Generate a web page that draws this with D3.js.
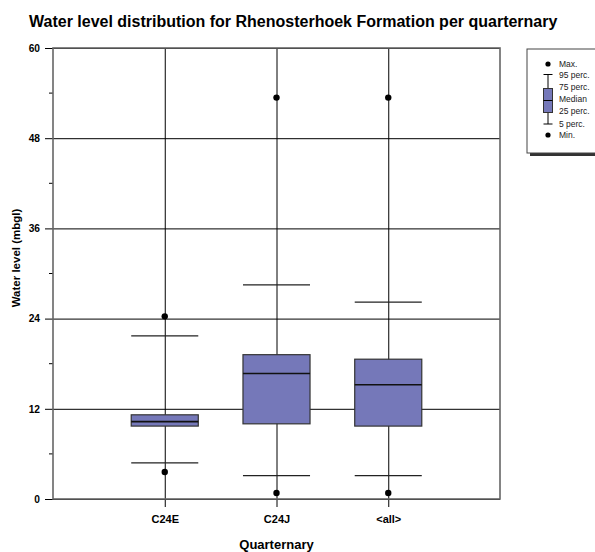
<!DOCTYPE html>
<html>
<head>
<meta charset="utf-8">
<script src="https://cdn.jsdelivr.net/npm/d3@7"></script>
<style>
  html, body { margin: 0; padding: 0; background: #fff; }
  svg { display: block; font-family: "Liberation Sans", Arial, sans-serif; }
</style>
</head>
<body>
<svg id="chart" width="595" height="552"></svg>
<script>
// Water level statistics per quarternary (mbgl)
const categories = ["C24E", "C24J", "<all>"];
const minValues  = [3.6, 0.8, 0.8];
const p5Values   = [4.8, 3.1, 3.1];
const p25Values  = [9.7, 10.0, 9.7];
const medianValues = [10.3, 16.7, 15.2];
const p75Values  = [11.2, 19.2, 18.6];
const p95Values  = [21.7, 28.5, 26.2];
const maxValues  = [24.3, 53.4, 53.4];
const yTicks = [0, 12, 24, 36, 48, 60];
const yMinorTicks = [6, 18, 30, 42, 54];
const legendLabels = ["Max.", "95 perc.", "75 perc.", "Median", "25 perc.", "5 perc.", "Min."];

const boxFill = "#7578b9";
const svg = d3.select("#chart");
const margin = { left: 53, right: 500, top: 48, bottom: 499 };

const x = d3.scalePoint()
  .domain(["", ...categories, " "])
  .range([margin.left, margin.right]);
const step = x.step();
const boxW = step * 0.6;

const y = d3.scaleLinear().domain([0, 60]).range([margin.bottom, margin.top]);

// Title
svg.append("text")
  .attr("x", 29).attr("y", 27)
  .attr("font-size", 16).attr("font-weight", "bold")
  .text("Water level distribution for Rhenosterhoek Formation per quarternary");

// Horizontal gridlines with left ticks
const yAxis = d3.axisLeft(y)
  .tickValues(yTicks)
  .tickSize(-(margin.right - margin.left))
  .tickPadding(13)
  .tickFormat(d3.format("d"));
const gy = svg.append("g")
  .attr("transform", `translate(${margin.left},0)`)
  .call(yAxis);
gy.select(".domain").remove();
gy.selectAll(".tick line")
  .attr("x1", -8)
  .attr("stroke", "#000").attr("stroke-width", 1);
gy.selectAll(".tick text")
  .attr("font-size", 10.2).attr("font-weight", "bold")
  .attr("font-family", "Liberation Sans, Arial, sans-serif")
  .attr("fill", "#000");

// Minor ticks on the left
svg.append("g").selectAll("line")
  .data(yMinorTicks).join("line")
  .attr("x1", margin.left - 4).attr("x2", margin.left)
  .attr("y1", d => y(d)).attr("y2", d => y(d))
  .attr("stroke", "#000");

// Vertical category lines running through the plot and below the axis
const xAxis = d3.axisBottom(x)
  .tickValues(categories)
  .tickSize(-(margin.bottom - margin.top))
  .tickPadding(16);
const gx = svg.append("g")
  .attr("transform", `translate(0,${margin.bottom})`)
  .call(xAxis);
gx.select(".domain").remove();
gx.selectAll(".tick line")
  .attr("y1", 8)
  .attr("stroke", "#000").attr("stroke-width", 1);
gx.selectAll(".tick text")
  .attr("font-size", 11).attr("font-weight", "bold")
  .attr("font-family", "Liberation Sans, Arial, sans-serif")
  .attr("fill", "#000");

// Plot frame
svg.append("rect")
  .attr("x", margin.left).attr("y", margin.top)
  .attr("width", margin.right - margin.left)
  .attr("height", margin.bottom - margin.top)
  .attr("fill", "none").attr("stroke", "#666").attr("stroke-width", 1.6);

// Boxes
const groups = svg.append("g").selectAll("g")
  .data(categories.map((c, i) => ({
    c, min: minValues[i], p5: p5Values[i], p25: p25Values[i],
    med: medianValues[i], p75: p75Values[i], p95: p95Values[i], max: maxValues[i]
  })))
  .join("g");

groups.append("line")
  .attr("x1", d => x(d.c) - boxW / 2).attr("x2", d => x(d.c) + boxW / 2)
  .attr("y1", d => y(d.p95)).attr("y2", d => y(d.p95))
  .attr("stroke", "#222").attr("stroke-width", 1.2);
groups.append("line")
  .attr("x1", d => x(d.c) - boxW / 2).attr("x2", d => x(d.c) + boxW / 2)
  .attr("y1", d => y(d.p5)).attr("y2", d => y(d.p5))
  .attr("stroke", "#222").attr("stroke-width", 1.2);
groups.append("rect")
  .attr("x", d => x(d.c) - boxW / 2)
  .attr("width", boxW)
  .attr("y", d => y(d.p75))
  .attr("height", d => y(d.p25) - y(d.p75))
  .attr("fill", boxFill).attr("stroke", "#333").attr("stroke-width", 1.2);
groups.append("line")
  .attr("x1", d => x(d.c) - boxW / 2).attr("x2", d => x(d.c) + boxW / 2)
  .attr("y1", d => y(d.med)).attr("y2", d => y(d.med))
  .attr("stroke", "#111").attr("stroke-width", 1.6);
groups.append("circle")
  .attr("cx", d => x(d.c)).attr("cy", d => y(d.max)).attr("r", 3.2).attr("fill", "#000");
groups.append("circle")
  .attr("cx", d => x(d.c)).attr("cy", d => y(d.min)).attr("r", 3.2).attr("fill", "#000");

// Axis titles
svg.append("text")
  .attr("transform", `translate(20,258) rotate(-90)`)
  .attr("text-anchor", "middle")
  .attr("font-size", 11.5).attr("font-weight", "bold")
  .text("Water level (mbgl)");
svg.append("text")
  .attr("x", x("C24J")).attr("y", 549)
  .attr("text-anchor", "middle")
  .attr("font-size", 13).attr("font-weight", "bold")
  .text("Quarternary");

// Legend
const lg = svg.append("g");
lg.append("rect")
  .attr("x", 530).attr("y", 52).attr("width", 80).attr("height", 104)
  .attr("fill", "#333");
lg.append("rect")
  .attr("x", 527).attr("y", 49).attr("width", 80).attr("height", 104)
  .attr("fill", "#fff").attr("stroke", "#444").attr("stroke-width", 1);

const lx = 548;
const ly = d3.scaleLinear().domain([0, 6]).range([64, 135]);
lg.append("circle").attr("cx", lx).attr("cy", ly(0)).attr("r", 2.6).attr("fill", "#000");
lg.append("circle").attr("cx", lx).attr("cy", ly(6)).attr("r", 2.6).attr("fill", "#000");
lg.append("line").attr("x1", lx).attr("x2", lx).attr("y1", 74.5).attr("y2", 124).attr("stroke", "#000");
lg.append("line").attr("x1", lx - 4.5).attr("x2", lx + 4.5).attr("y1", 74.5).attr("y2", 74.5).attr("stroke", "#000");
lg.append("line").attr("x1", lx - 4.5).attr("x2", lx + 4.5).attr("y1", 124).attr("y2", 124).attr("stroke", "#000");
lg.append("rect").attr("x", lx - 4.5).attr("y", 88.5).attr("width", 9).attr("height", 24)
  .attr("fill", boxFill).attr("stroke", "#333");
lg.append("line").attr("x1", lx - 4.5).attr("x2", lx + 4.5).attr("y1", 100.5).attr("y2", 100.5).attr("stroke", "#000");

const legendY = [64, 75, 87, 99.5, 111, 124, 135];
lg.selectAll("text.lab")
  .data(legendLabels).join("text")
  .attr("class", "lab")
  .attr("x", 559).attr("y", (d, i) => legendY[i])
  .attr("dy", "0.35em")
  .attr("font-size", 8.5).attr("fill", "#222")
  .text(d => d);
</script>
</body>
</html>
